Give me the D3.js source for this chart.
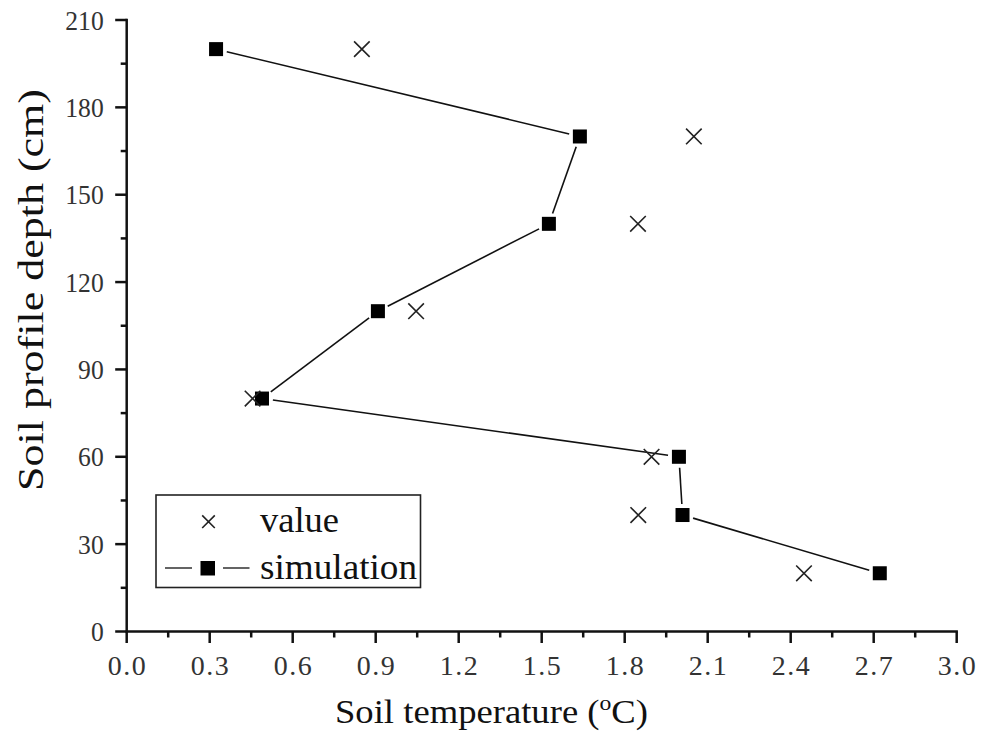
<!DOCTYPE html>
<html>
<head>
<meta charset="utf-8">
<script src="https://cdn.jsdelivr.net/npm/d3@7/dist/d3.min.js"></script>
<style>
  html, body { margin: 0; padding: 0; background: #fff; }
  svg { display: block; }
</style>
</head>
<body>
<svg id="chart" width="990" height="732"></svg>
<script>
// ---- data ----
const depths = [200, 170, 140, 110, 80, 60, 40, 20];
const valueTemps = [0.85, 2.05, 1.848, 1.046, 0.455, 1.897, 1.849, 2.448];
const simulationTemps = [0.323, 1.638, 1.526, 0.908, 0.489, 1.996, 2.009, 2.722];
const xTicks = [0.0, 0.3, 0.6, 0.9, 1.2, 1.5, 1.8, 2.1, 2.4, 2.7, 3.0];
const yTicks = [0, 30, 60, 90, 120, 150, 180, 210];
const seriesNames = ["value", "simulation"];
const xTitle = "Soil temperature (";
const yTitle = "Soil profile depth (cm)";

const svg = d3.select("#chart");
const x = d3.scaleLinear().domain([0, 3]).range([126.7, 956.7]);
const y = d3.scaleLinear().domain([0, 210]).range([631.5, 20]);

const tickFont = "'Liberation Serif', 'DejaVu Serif', serif";
const axisColor = "#111";

// minor ticks
const xMinor = d3.range(0.15, 3.0, 0.3);
const yMinor = d3.range(15, 210, 30);

// X axis
const gx = svg.append("g").attr("transform", `translate(0,${y(0)})`);
gx.append("line").attr("x1", x(0) - 1).attr("x2", x(3) + 1.2)
  .attr("stroke", axisColor).attr("stroke-width", 2.5);
gx.selectAll("line.maj").data(xTicks).enter().append("line")
  .attr("x1", d => x(d)).attr("x2", d => x(d)).attr("y1", 0).attr("y2", 11.5)
  .attr("stroke", axisColor).attr("stroke-width", 2.5);
gx.selectAll("line.min").data(xMinor).enter().append("line")
  .attr("x1", d => x(d)).attr("x2", d => x(d)).attr("y1", 0).attr("y2", 6)
  .attr("stroke", axisColor).attr("stroke-width", 2.5);
gx.selectAll("text").data(xTicks).enter().append("text")
  .attr("x", d => x(d) - 19).attr("y", 43)
  .attr("font-family", tickFont).attr("font-size", 28)
  .attr("textLength", 38).attr("lengthAdjust", "spacing")
  .attr("fill", "#333")
  .text(d => d3.format(".1f")(d));

// Y axis
const gy = svg.append("g").attr("transform", `translate(${x(0)},0)`);
gy.append("line").attr("y1", y(210) - 1.2).attr("y2", y(0) + 1)
  .attr("stroke", axisColor).attr("stroke-width", 2.5);
gy.selectAll("line.maj").data(yTicks).enter().append("line")
  .attr("y1", d => y(d)).attr("y2", d => y(d)).attr("x1", 0).attr("x2", -11.5)
  .attr("stroke", axisColor).attr("stroke-width", 2.5);
gy.selectAll("line.min").data(yMinor).enter().append("line")
  .attr("y1", d => y(d)).attr("y2", d => y(d)).attr("x1", 0).attr("x2", -6)
  .attr("stroke", axisColor).attr("stroke-width", 2.5);
gy.selectAll("text").data(yTicks).enter().append("text")
  .attr("x", d => -23 - String(d).length * 12.8).attr("y", d => y(d) + 9.5)
  .attr("font-family", tickFont).attr("font-size", 28)
  .attr("textLength", d => String(d).length * 12.8).attr("lengthAdjust", "spacingAndGlyphs")
  .attr("fill", "#333")
  .text(d => d);

// Axis titles
const titleFont = "'Liberation Serif', 'Times New Roman', serif";
const xt = svg.append("text")
  .attr("x", 335).attr("y", 723)
  .attr("font-family", titleFont).attr("font-size", 34).attr("fill", "#111")
  .attr("textLength", 313).attr("lengthAdjust", "spacingAndGlyphs");
xt.append("tspan").text(xTitle);
xt.append("tspan").attr("font-size", 22).attr("dy", -13).text("o");
xt.append("tspan").attr("dy", 13).text("C)");

svg.append("text")
  .attr("transform", `translate(43,${290}) rotate(-90)`)
  .attr("text-anchor", "middle")
  .attr("font-family", titleFont).attr("font-size", 35).attr("fill", "#111")
  .attr("textLength", 402).attr("lengthAdjust", "spacingAndGlyphs")
  .text(yTitle);

// simulation line (with gaps around symbols)
const pts = simulationTemps.map((t, i) => [x(t), y(depths[i])]);
const gap = 11;
const segs = d3.pairs(pts).map(([a, b]) => {
  const dx = b[0] - a[0], dy = b[1] - a[1];
  const L = Math.hypot(dx, dy);
  const ux = dx / L, uy = dy / L;
  return [a[0] + ux * gap, a[1] + uy * gap, b[0] - ux * gap, b[1] - uy * gap];
});
svg.append("g").selectAll("line").data(segs).enter().append("line")
  .attr("x1", d => d[0]).attr("y1", d => d[1]).attr("x2", d => d[2]).attr("y2", d => d[3])
  .attr("stroke", "#111").attr("stroke-width", 1.6);

// simulation squares
const sq = 14;
svg.append("g").selectAll("rect").data(simulationTemps).enter().append("rect")
  .attr("x", d => x(d) - sq / 2)
  .attr("y", (d, i) => y(depths[i]) - sq / 2)
  .attr("width", sq).attr("height", sq).attr("fill", "#000");

// value crosses
function crossPath(cx, cy, h) {
  return `M${cx - h},${cy - h}L${cx + h},${cy + h}M${cx - h},${cy + h}L${cx + h},${cy - h}`;
}
svg.append("g").selectAll("path").data(valueTemps).enter().append("path")
  .attr("d", (d, i) => crossPath(x(d), y(depths[i]), 7.8))
  .attr("stroke", "#222").attr("stroke-width", 1.6).attr("fill", "none");

// legend
const lg = svg.append("g");
lg.append("rect").attr("x", 156).attr("y", 495).attr("width", 264.5).attr("height", 92.5)
  .attr("fill", "none").attr("stroke", "#222").attr("stroke-width", 1.6);
lg.append("path").attr("d", crossPath(208.5, 521.7, 6.3))
  .attr("stroke", "#222").attr("stroke-width", 1.6).attr("fill", "none");
lg.append("line").attr("x1", 165).attr("x2", 192).attr("y1", 568).attr("y2", 568)
  .attr("stroke", "#222").attr("stroke-width", 1.4);
lg.append("line").attr("x1", 223).attr("x2", 249.5).attr("y1", 568).attr("y2", 568)
  .attr("stroke", "#222").attr("stroke-width", 1.4);
lg.append("rect").attr("x", 200.5).attr("y", 561).attr("width", 14.5).attr("height", 14.5).attr("fill", "#000");
lg.selectAll("text").data(seriesNames).enter().append("text")
  .attr("x", 260).attr("y", (d, i) => i === 0 ? 531.5 : 579)
  .attr("font-family", titleFont).attr("font-size", 36).attr("fill", "#111")
  .attr("textLength", (d, i) => i === 0 ? 79 : 157).attr("lengthAdjust", "spacingAndGlyphs")
  .text(d => d);
</script>
</body>
</html>
